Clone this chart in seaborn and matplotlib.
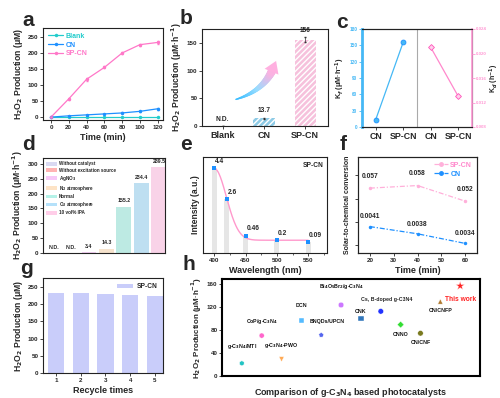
import numpy as np
import pandas as pd
import matplotlib
matplotlib.use("Agg")
import matplotlib.pyplot as plt
import seaborn as sns
from matplotlib.collections import LineCollection
from matplotlib.patches import Patch
from matplotlib.lines import Line2D

# ---------------- data ----------------
time_a = [0, 20, 40, 60, 80, 100, 120]
blank_a = [0, 0, 0, 0, 0, 0, 0]
cn_a = [0, 4, 7, 10, 13, 18, 26]
spcn_a = [0, 57, 118, 155, 200, 226, 233]
cn_a_err = [0.5, 1, 1, 1, 1.5, 2, 2.5]
spcn_a_err = [1, 4, 4, 3, 4, 3, 4]

cats_b = ["Blank", "CN", "SP-CN"]
vals_b = [0, 13.7, 156]
err_b = [0, 1.5, 4]
labels_b = ["N.D.", "13.7", "156"]

cats_c = ["CN", "SP-CN"]
kf_c = [13.7, 156]
kd_c = [0.021, 0.013]

conds_d = ["Without catalyst", "Without excitation source", "AgNO$_3$",
           "N$_2$ atmosphere", "Normal", "O$_2$ atmosphere", "10 vol% IPA"]
vals_d = [0, 0, 3.4, 14.3, 155.2, 234.4, 289.5]
labels_d = ["N.D.", "N.D.", "3.4", "14.3", "155.2", "234.4", "289.5"]

wl_e = [400, 420, 450, 500, 550]
int_e = [4.4, 2.6, 0.46, 0.2, 0.09]
labels_e = ["4.4", "2.6", "0.46", "0.2", "0.09"]

time_f = [20, 40, 60]
spcn_f = [0.057, 0.058, 0.052]
cn_f = [0.0041, 0.0038, 0.0034]
labels_spcn_f = ["0.057", "0.058", "0.052"]
labels_cn_f = ["0.0041", "0.0038", "0.0034"]

cycles_g = [1, 2, 3, 4, 5]
vals_g = [233, 232, 229, 227, 225]

names_h = ["g-C$_3$N$_4$/MTI", "CoP/g-C$_3$N$_4$", "g-C$_3$N$_4$-PWO", "DCN",
           "BNQDs/UPCN", "Bi$_4$O$_5$Br$_2$/g-C$_3$N$_4$", "CNK",
           "Cs, B-doped g-C3N4", "CNNO", "CN/CNF", "CN/CNFP", "This work"]
vals_h = [22, 70, 29, 96, 71, 123, 100, 112, 89, 74, 129, 156]

# ---------------- style ----------------
sns.set_theme(style="ticks")
plt.rcParams.update({
    "font.family": ["Liberation Sans", "DejaVu Sans"],
    "font.weight": "bold",
    "axes.labelweight": "bold",
    "axes.linewidth": 0.8,
    "xtick.major.width": 0.6, "ytick.major.width": 0.6,
    "xtick.major.size": 2.0, "ytick.major.size": 2.0,
    "xtick.labelsize": 4.5, "ytick.labelsize": 4.5,
    "axes.labelsize": 6.2,
    "xtick.major.pad": 1.5, "ytick.major.pad": 1.2,
    "axes.labelpad": 2,
    "axes.edgecolor": "#222222",
})

fig = plt.figure(figsize=(5.0, 3.98), dpi=100)
W, H = 500, 398


def add_ax(l, t, r, b):
    return fig.add_axes([l / W, 1 - b / H, (r - l) / W, (b - t) / H])


def letter(x, y, s):
    fig.text(x / W, 1 - y / H, s, fontsize=15, fontweight="bold", ha="left", va="center")


PINK = "#ff77c8"
BLUE = "#1e90ff"
CYAN = "#22cccc"

# ---------------- a ----------------
ax = add_ax(43, 28, 163, 120)
dfa = pd.DataFrame({"t": time_a * 3,
                    "v": blank_a + cn_a + spcn_a,
                    "s": ["Blank"] * 7 + ["CN"] * 7 + ["SP-CN"] * 7})
pal_a = {"Blank": CYAN, "CN": BLUE, "SP-CN": PINK}
ax.fill_between(time_a, np.array(blank_a) - 4, blank_a, color=CYAN, alpha=0.6, lw=0)
sns.lineplot(data=dfa, x="t", y="v", hue="s", palette=pal_a, marker="o",
             markersize=2.5, markeredgewidth=0, lw=0.9, ax=ax)
ax.errorbar(time_a, cn_a, yerr=cn_a_err, fmt="none", ecolor=BLUE, elinewidth=0.5, capsize=1)
ax.errorbar(time_a, spcn_a, yerr=spcn_a_err, fmt="none", ecolor=PINK, elinewidth=0.5, capsize=1)
ax.set_xlim(-9, 126)
ax.set_ylim(-9, 278)
ax.set_xticks(range(0, 121, 20))
ax.set_yticks(range(0, 251, 50))
ax.set_xlabel("Time (min)", fontsize=6.5)
ax.set_ylabel("H$_2$O$_2$ Production (μM)")
leg = ax.legend(loc="upper left", fontsize=5, frameon=False, handlelength=2.2,
                borderaxespad=0.3, labelspacing=0.25, handletextpad=0.4)
for txt, h in zip(leg.get_texts(), ["Blank", "CN", "SP-CN"]):
    txt.set_color(pal_a[h])
letter(22, 20, "a")

# ---------------- b ----------------
ax = add_ax(202, 29, 328, 126)
dfb = pd.DataFrame({"c": cats_b, "v": vals_b})
sns.barplot(data=dfb, x="c", y="v", hue="c", palette=["#dddddd", "#7fd0f5", "#ffb8dc"],
            width=0.52, ax=ax, legend=False, errorbar=None, linewidth=0)
for p, hc in zip(ax.patches, ["", "//////", "//////"]):
    p.set_hatch(hc)
    p.set_edgecolor("white")
ax.errorbar(range(3), vals_b, yerr=err_b, fmt="none", ecolor="#333333", elinewidth=0.5, capsize=1)
for i, (v, lab, e) in enumerate(zip(vals_b, labels_b, err_b)):
    ax.annotate(lab, (i, v + e), xytext=(0, 2.5), textcoords="offset points",
                ha="center", va="bottom", fontsize=4.8, fontweight="bold")
ax.set_xlim(-0.5, 2.55)
ax.set_ylim(0, 175)
ax.set_yticks([0, 50, 100, 150])
ax.set_xlabel("")
ax.set_ylabel("H$_2$O$_2$ Production (μM·h$^{-1}$)")
ax.tick_params(axis="x", labelsize=6.5)
# gradient arrow decoration
tt = np.linspace(0, 1, 40)
P0, P1, P2 = np.array([0.32, 48.0]), np.array([0.95, 62.0]), np.array([1.2, 100.0])
pts = ((1 - tt) ** 2)[:, None] * P0 + (2 * (1 - tt) * tt)[:, None] * P1 + (tt ** 2)[:, None] * P2
segs = np.stack([pts[:-1], pts[1:]], axis=1)
cmap = matplotlib.colors.LinearSegmentedColormap.from_list("bp", ["#33bbff", "#99ddff", "#ffb0e0"])
lc = LineCollection(segs, colors=cmap(tt[:-1]), linewidths=1 + 5 * tt[:-1], capstyle="round")
ax.add_collection(lc)
ax.annotate("", xy=(1.32, 122), xytext=tuple(pts[-3]),
            arrowprops=dict(arrowstyle="-|>,head_width=0.45,head_length=0.7",
                            color="#ffb0e0", lw=0))
letter(180, 18, "b")

# ---------------- c ----------------
ax = add_ax(362, 29, 472, 127)
ax2 = ax.twinx()
dfc1 = pd.DataFrame({"x": [0.5, 1.5], "v": kf_c})
dfc2 = pd.DataFrame({"x": [2.5, 3.5], "v": kd_c})
sns.lineplot(data=dfc1, x="x", y="v", color="#45b8f5", marker="o", markersize=3.5,
             markeredgecolor="#1e90ff", markeredgewidth=0.6, lw=0.9, ax=ax)
sns.lineplot(data=dfc2, x="x", y="v", color="#ff88cc", marker="D", markersize=3,
             markeredgecolor="#ff55bb", markerfacecolor="#ffd0ec", markeredgewidth=0.6,
             lw=0.9, ax=ax2)
ax.axvline(2, color="#aaaaaa", lw=0.8)
ax.set_xlim(0, 4)
ax.set_ylim(0, 180)
ax.set_yticks(range(0, 181, 30))
ax2.set_ylim(0.008, 0.024)
ax2.set_yticks([0.008, 0.012, 0.016, 0.020, 0.024])
ax2.set_yticklabels(["0.008", "0.012", "0.016", "0.020", "0.024"])
ax.set_xticks([0.5, 1.5, 2.5, 3.5])
ax.set_xticklabels(cats_c + cats_c)
ax.tick_params(axis="x", labelsize=6.3)
ax.tick_params(axis="y", labelsize=3.4, colors="#45b8f5", labelcolor="#45b8f5")
ax2.tick_params(axis="y", labelsize=3.2, colors="#ff99d4", labelcolor="#ff99d4", pad=0.8)
ax.spines["left"].set_color("#45b8f5")
ax.spines["left"].set_linewidth(2)
ax2.spines["right"].set_color("#ff99d4")
ax2.spines["right"].set_linewidth(1.2)
ax2.spines["left"].set_visible(False)
ax.set_xlabel("")
ax.set_ylabel("K$_f$ (μM·h$^{-1}$)", fontsize=5.2)
ax2.set_ylabel("K$_d$ (h$^{-1}$)", fontsize=5.0, labelpad=0.8)
letter(336, 22, "c")

# ---------------- d ----------------
ax = add_ax(43, 158, 165, 253)
cols_d = ["#d9d9f2", "#ffb3b3", "#f7c8f7", "#fde3c6", "#b5f2e8", "#b5e1fa", "#ffcde8"]
dfd = pd.DataFrame({"c": conds_d, "v": vals_d})
sns.barplot(data=dfd, x="c", y="v", hue="c", palette=cols_d, width=0.85, ax=ax,
            legend=False, errorbar=None, linewidth=0)
for i, (v, lab) in enumerate(zip(vals_d, labels_d)):
    ax.annotate(lab, (i, v), xytext=(0, 2.5), textcoords="offset points",
                ha="center", va="bottom", fontsize=3.8, fontweight="bold")
ax.set_xlim(-0.63, 6.35)
ax.set_ylim(0, 320)
ax.set_yticks(range(0, 301, 50))
ax.set_xticks([])
ax.set_xlabel("")
ax.set_ylabel("H$_2$O$_2$ Production (μM·h$^{-1}$)")
handles = [Patch(facecolor=c, edgecolor="none") for c in cols_d]
ax.legend(handles, conds_d, loc="upper left", fontsize=3.3, frameon=False,
          handlelength=2.2, handleheight=0.9, labelspacing=0.25, borderaxespad=0.35,
          handletextpad=0.5)
letter(22, 145, "d")

# ---------------- e ----------------
ax = add_ax(203, 157, 327, 253)
ymin_e = -0.55
ax.bar(wl_e, np.array(int_e) - ymin_e, bottom=ymin_e, width=8, color="#e6e6e6", lw=0)
# smooth Gaussian+baseline fit of the measured points
xw = np.array(wl_e, float)
yw = np.array(int_e, float)
best = None
for s in np.linspace(10, 40, 301):
    for c0 in np.linspace(0, 0.3, 61):
        g = np.exp(-(xw - 400) ** 2 / (2 * s ** 2))
        a = np.sum(g * (yw - c0)) / np.sum(g * g)
        err = np.sum((a * g + c0 - yw) ** 2)
        if best is None or err < best[0]:
            best = (err, s, c0, a)
_, s_fit, c_fit, a_fit = best
xs = np.linspace(400, 550, 200)
ys = a_fit * np.exp(-(xs - 400) ** 2 / (2 * s_fit ** 2)) + c_fit
sns.lineplot(x=xs, y=ys, color="#ff99cc", lw=1.0, ax=ax)
sns.scatterplot(x=wl_e, y=int_e, color="#1e90ff", marker="s", s=7, linewidth=0, ax=ax, zorder=5)
for x, v, lab in zip(wl_e, int_e, labels_e):
    ax.annotate(lab, (x, v), xytext=(0.5, 2.5), textcoords="offset points",
                ha="left", va="bottom", fontsize=4.8, fontweight="bold")
ax.set_xlim(382, 580)
ax.set_ylim(ymin_e, 5.05)
ax.set_xticks([400, 450, 500, 550])
ax.set_xticks([425, 475, 525, 575], minor=True)
ax.tick_params(axis="x", which="minor", length=1.2, width=0.5)
ax.set_yticks([])
ax.set_xlabel("Wavelength (nm)", fontsize=6.5)
ax.set_ylabel("Intensity (a.u.)")
ax.text(0.97, 0.95, "SP-CN", transform=ax.transAxes, ha="right", va="top", fontsize=4.8)
letter(180, 145, "e")

# ---------------- f ----------------
ax = add_ax(358, 157, 477, 253)
axf2 = ax.twinx()
sns.lineplot(x=time_f, y=spcn_f, color="#ffb0da", lw=0.9, marker="o", markersize=2.5,
             markeredgewidth=0, ax=ax)
ax.lines[-1].set_dashes([4, 1.5, 1, 1.5])
sns.lineplot(x=time_f, y=cn_f, color=BLUE, lw=0.9, marker="o", markersize=2.5,
             markeredgewidth=0, ax=axf2)
axf2.lines[-1].set_dashes([4, 1.5, 1, 1.5])
for x, v, lab in zip(time_f, spcn_f, labels_spcn_f):
    ax.annotate(lab, (x, v), xytext=(0, 6), textcoords="offset points",
                ha="center", va="bottom", fontsize=4.8, fontweight="bold")
for x, v, lab in zip(time_f, cn_f, labels_cn_f):
    axf2.annotate(lab, (x, v), xytext=(0, 4.5), textcoords="offset points",
                  ha="center", va="bottom", fontsize=4.8, fontweight="bold")
ax.set_xlim(15, 65)
ax.set_ylim(0.032, 0.069)
axf2.set_ylim(0.0030, 0.0070)
ax.set_xticks([20, 30, 40, 50, 60])
ax.set_yticks([0.035, 0.044, 0.053, 0.062])
ax.set_yticklabels([])
axf2.set_yticks([])
ax.set_xlabel("Time (min)", fontsize=6.5)
ax.set_ylabel("Solar-to-chemical conversion", fontsize=5)
hf = [Line2D([], [], color="#ffb0da", lw=0.9, marker="o", markersize=2.5, dashes=[4, 1.5, 1, 1.5]),
      Line2D([], [], color=BLUE, lw=0.9, marker="o", markersize=2.5, dashes=[4, 1.5, 1, 1.5])]
lg = axf2.legend(hf, ["SP-CN", "CN"], loc="upper right", fontsize=5, frameon=False,
                 handlelength=2.0, labelspacing=0.25, borderaxespad=0.3, handletextpad=0.3)
lg.get_texts()[0].set_color("#ff88cc")
lg.get_texts()[1].set_color(BLUE)
letter(340, 145, "f")

# ---------------- g ----------------
ax = add_ax(43, 278, 163, 373)
dfg = pd.DataFrame({"c": [str(c) for c in cycles_g], "v": vals_g})
sns.barplot(data=dfg, x="c", y="v", color="#c9cdfa", width=0.67, ax=ax,
            errorbar=None, linewidth=0, saturation=1)
ax.set_xlim(-0.53, 4.33)
ax.set_ylim(0, 276)
ax.set_yticks(range(0, 251, 50))
ax.set_xlabel("Recycle times", fontsize=6.5)
ax.set_ylabel("H$_2$O$_2$ Production (μM)")
ax.legend([Patch(facecolor="#c9cdfa", edgecolor="none")], ["SP-CN"], loc="upper right",
          fontsize=4.8, frameon=False, handlelength=2.5, borderaxespad=0.4, handletextpad=0.5)
letter(20, 268, "g")

# ---------------- h ----------------
ax = add_ax(222, 279, 480, 376)
cols_h = ["#22c4c4", "#ff66cc", "#ffaa55", "#55bbff", "#5566ee", "#cc77ff",
          "#3377bb", "#2233ff", "#33dd33", "#7a7a20", "#b07a30", "#ff2222"]
marks_h = ["h", "o", "v", "s", "p", "o", "s", "o", "D", "o", "^", "*"]
sizes_h = [14, 14, 14, 14, 14, 16, 14, 16, 12, 16, 14, 45]
dfh = pd.DataFrame({"n": names_h, "x": range(len(names_h)), "v": vals_h})
sns.scatterplot(data=dfh, x="x", y="v", hue="n", style="n", palette=cols_h,
                markers=marks_h, size="n", sizes=dict(zip(names_h, sizes_h)),
                edgecolor="white", linewidth=0.3, legend=False, ax=ax)
offs_h = [9, 7, 7, 9, 8, 10, 3, 7, -5, -5, -5, -7]
dx_h = [0, 0, 0, 0, 4, 0, 0, 0, 0, 0, 0, 0]
for i, (n, v, o, d) in enumerate(zip(names_h, vals_h, offs_h, dx_h)):
    if n == "Cs, B-doped g-C3N4":
        ax.annotate(n, (i, v), xytext=(-14, o), textcoords="offset points",
                    ha="left", va="bottom", fontsize=3.8, fontweight="bold")
        continue
    ax.annotate(n, (i, v), xytext=(d, o), textcoords="offset points",
                ha="center", va="bottom" if o > 0 else "top",
                fontsize=3.8 if n != "This work" else 4.8, fontweight="bold",
                color="#ff2222" if n == "This work" else "#111111")
ax.set_xlim(-1, 12)
ax.set_ylim(0, 168)
ax.set_yticks(range(0, 161, 40))
ax.set_xticks([])
for sp in ax.spines.values():
    sp.set_linewidth(1.5)
    sp.set_color("black")
ax.set_xlabel("Comparison of g-C$_3$N$_4$ based photocatalysts", fontsize=6.5, labelpad=7)
ax.set_ylabel("H$_2$O$_2$ Production (μM·h$^{-1}$)", fontsize=5.8)
letter(183, 264, "h")

fig.savefig("out.png", dpi=100)
